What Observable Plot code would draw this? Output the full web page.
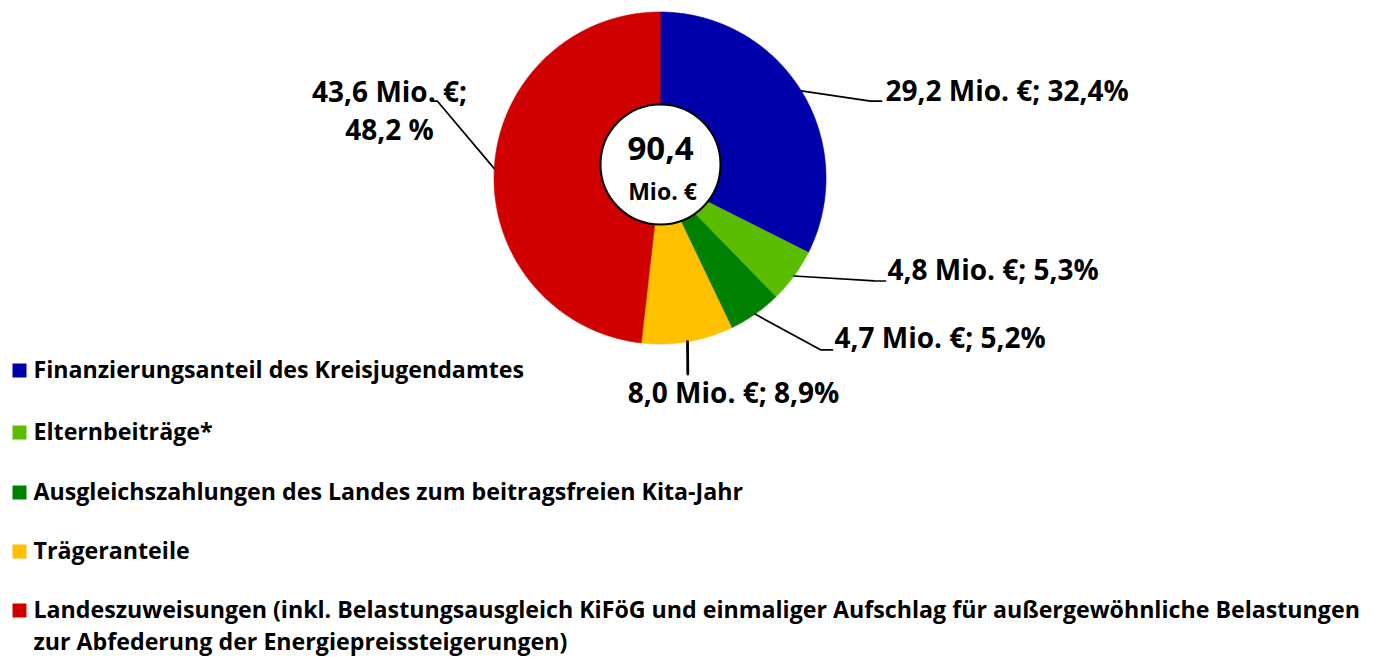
<!DOCTYPE html>
<html><head><meta charset="utf-8">
<script src="https://cdn.jsdelivr.net/npm/d3@7"></script>
<script src="https://cdn.jsdelivr.net/npm/@observablehq/plot@0.6"></script>
<style>body{margin:0;background:#fff;overflow:hidden}</style>
</head><body><div id="chart"></div>
<script>
// ---- data ----
const categories = [
  "Finanzierungsanteil des Kreisjugendamtes",
  "Elternbeiträge*",
  "Ausgleichszahlungen des Landes zum beitragsfreien Kita-Jahr",
  "Trägeranteile",
  "Landeszuweisungen (inkl. Belastungsausgleich KiFöG und einmaliger Aufschlag für außergewöhnliche Belastungen zur Abfederung der Energiepreissteigerungen)"
];
const amounts = [29.2, 4.8, 4.7, 8.0, 43.6];   // Mio. €
const shares  = [32.4, 5.3, 5.2, 8.9, 48.2];   // %
const sliceLabels = [
  ["29,2 Mio. €; 32,4%"],
  ["4,8 Mio. €; 5,3%"],
  ["4,7 Mio. €; 5,2%"],
  ["8,0 Mio. €; 8,9%"],
  ["43,6 Mio. €;", "48,2 %"]
];
const totalLabel = "90,4";
const unitLabel = "Mio. €";
const legendLines = [
  ["Finanzierungsanteil des Kreisjugendamtes"],
  ["Elternbeiträge*"],
  ["Ausgleichszahlungen des Landes zum beitragsfreien Kita-Jahr"],
  ["Trägeranteile"],
  ["Landeszuweisungen (inkl. Belastungsausgleich KiFöG und einmaliger Aufschlag für außergewöhnliche Belastungen",
   "zur Abfederung der Energiepreissteigerungen)"]
];

// ---- styles / layout ----
const colors = ["#0000AA", "#5BBD00", "#008000", "#FFC000", "#D00000"];
const W = 1374, H = 657;
const CX = 659.5, CY = 177.5, R = 166;          // pie
const HX = 660, HY = 164, HR = 60;              // center hole
const FONT = "Open Sans";
const labelPos = [
  {x: 885, y: [92], anchor: "start", elbow: [[870, 100.7], [881, 100.7]]},
  {x: 887, y: [271], anchor: "start", elbow: [[874, 280.3], [885, 280.5]]},
  {x: 834, y: [339], anchor: "start", elbow: [[820, 349.3], [832, 349.3]]},
  {x: 733, y: [394], anchor: "middle", elbow: [[687.3, 373.5]]},
  {x: 389, y: [92.5, 131], anchor: "middle", elbow: [[437, 100.7], [432, 100.7]]}
];
const legendY = [[370], [432], [492], [551], [610, 642]];
const legendSwatchX = 19, legendTextX = 33;

// ---- geometry from data ----
const arcs = d3.pie().sort(null).value(d => d)(shares);
const pt = a => ({x: CX + R * Math.sin(a), y: CY - R * Math.cos(a)});
const slicePts = [];
arcs.forEach((a, i) => {
  slicePts.push({x: CX, y: CY, k: categories[i]});
  const n = Math.max(4, Math.ceil((a.endAngle - a.startAngle) / (Math.PI / 360)));
  for (let j = 0; j <= n; j++) {
    const t = a.startAngle + (a.endAngle - a.startAngle) * j / n;
    slicePts.push({...pt(t), k: categories[i]});
  }
});
const leaderPts = [];
arcs.forEach((a, i) => {
  const p = pt((a.startAngle + a.endAngle) / 2);
  leaderPts.push({...p, k: i});
  labelPos[i].elbow.forEach(([x, y]) => leaderPts.push({x, y, k: i}));
});
const labelRows = [];
sliceLabels.forEach((lines, i) => lines.forEach((t, j) =>
  labelRows.push({t, x: labelPos[i].x, y: labelPos[i].y[j], anchor: labelPos[i].anchor})));
const legendRows = [];
legendLines.forEach((lines, i) => lines.forEach((t, j) => legendRows.push({t, y: legendY[i][j]})));
const swatches = categories.map((c, i) => ({c, y: legendY[i][0]}));

const chart = Plot.plot({
  width: W, height: H, margin: 0,
  x: {domain: [0, W], range: [0, W], axis: null},
  y: {domain: [0, H], range: [0, H], axis: null},
  color: {domain: categories, range: colors},
  style: {fontFamily: FONT, background: "white"},
  marks: [
    Plot.line(slicePts, {x: "x", y: "y", z: "k", fill: "k", stroke: "k", strokeWidth: 0.6, curve: "linear-closed"}),
    Plot.line(leaderPts.filter(d => d.k !== 3), {x: "x", y: "y", z: "k", stroke: "black", strokeWidth: 1.7}),
    Plot.line(leaderPts.filter(d => d.k === 3), {x: "x", y: "y", z: "k", stroke: "black", strokeWidth: 2.8}),
    Plot.dot([{x: HX, y: HY}], {x: "x", y: "y", r: HR, fill: "white", stroke: "black", strokeWidth: 2}),
    Plot.text([totalLabel], {x: () => HX, y: () => 149, text: d => d, fontSize: 33, fontWeight: "bold", fontFamily: FONT, fill: "black"}),
    Plot.text([unitLabel], {x: () => HX + 2, y: () => 192, text: d => d, fontSize: 23, fontWeight: "bold", fontFamily: FONT, fill: "black"}),
    Plot.text(labelRows.filter(d => d.anchor === "start"), {x: "x", y: "y", text: "t", textAnchor: "start", fontSize: 28, fontWeight: "bold", fontFamily: FONT, fill: "black"}),
    Plot.text(labelRows.filter(d => d.anchor === "middle"), {x: "x", y: "y", text: "t", textAnchor: "middle", fontSize: 28, fontWeight: "bold", fontFamily: FONT, fill: "black"}),
    Plot.dot(swatches, {x: () => legendSwatchX, y: "y", fill: "c", symbol: "square", r: 7.9}),
    Plot.text(legendRows, {x: () => legendTextX, y: "y", text: "t", textAnchor: "start", fontSize: 23.2, fontWeight: "bold", fontFamily: FONT, fill: "black"})
  ]
});
document.getElementById("chart").append(chart);
</script>
</body></html>
